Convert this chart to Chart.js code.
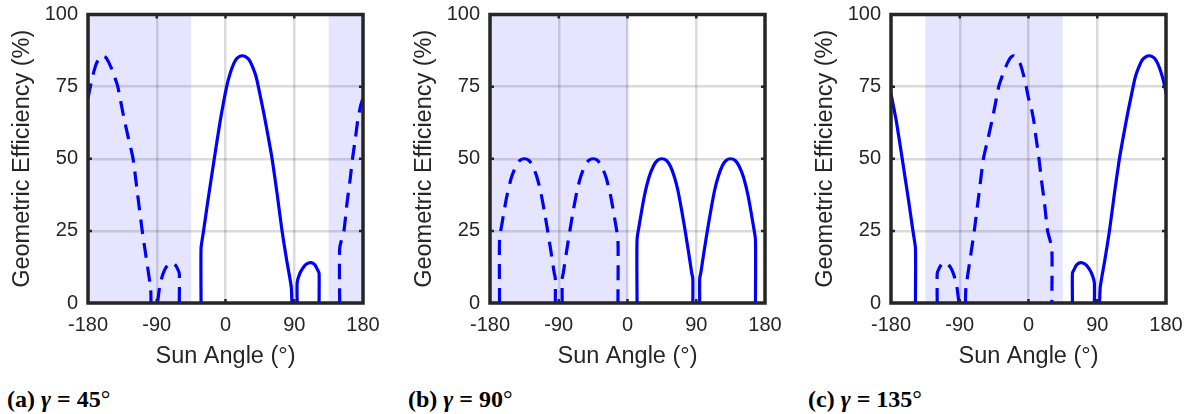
<!DOCTYPE html>
<html>
<head>
<meta charset="utf-8">
<script src="https://cdn.jsdelivr.net/npm/chart.js@4"></script>
<style>
  body { margin: 0; background: #fff; width: 1187px; height: 414px; position: relative; overflow: hidden; }
  .panel { position: absolute; top: 0; }
  .cap { position: absolute; top: 386px; line-height: 26px; font-family: "Liberation Serif", "Times New Roman", serif;
         font-size: 24px; font-weight: bold; color: #000; white-space: nowrap; }
  .cap span { font-weight: normal; }
</style>
</head>
<body>
<div class="panel" style="left:0px"><canvas id="chartA" width="384" height="373"></canvas></div>
<div class="panel" style="left:402px"><canvas id="chartB" width="384" height="373"></canvas></div>
<div class="panel" style="left:803px"><canvas id="chartC" width="384" height="373"></canvas></div>
<div class="cap" style="left:7px">(a) <i>γ</i> = 45<span>°</span></div>
<div class="cap" style="left:408px">(b) <i>γ</i> = 90<span>°</span></div>
<div class="cap" style="left:808px">(c) <i>γ</i> = 135<span>°</span></div>
<script>
// axis ticks
const xTicks = [-180, -90, 0, 90, 180];
const yTicks = [0, 25, 50, 75, 100];

// shaded sun-angle ranges per panel
const shadeA = [[-180, -45], [135, 180]];
const shadeB = [[-180, 0]];
const shadeC = [[-135, 45]];

// panel (a) gamma = 45 : solid and dashed series (null = gap)
const angA1 = [-32, -32, -29, -23, -15, -7, 1.5, 6, 10.5, 15, 18.5, 22, 26, 31, 36, 40, 43, 50, 56, 61, 67.5, 74, 80, 86, 87,
               90, 93.8, 93.8, 97, 101, 106, 112, 117, 120.5, 122.5, 122.5];
const effA1 = [0, 19, 24.5, 35.5, 49.5, 63, 75, 79.5, 82.8, 84.8, 85.5, 85.7, 85.4, 84.3, 81.5, 78.5, 75, 66, 57.5, 50, 38, 25, 15, 5.7, 0,
               null, 0, 7, 10, 12, 13.5, 14, 13.2, 11.5, 10.3, 0];
const angA2 = [-180, -177, -173, -169, -165, -161, -157, -153, -148, -144, -141, -134, -127, -121, -115, -109, -104, -98, -97.5,
               -93, -89, -86, -82, -78, -74, -70, -66, -63, -60.5, -60.5,
               0, 149.5, 149.5, 155, 159, 163, 166.5, 170, 173, 177, 180];
const effA2 = [71, 75, 79.5, 83, 85, 85.7, 85.2, 83.5, 80.5, 77.5, 75, 65.5, 57, 50, 37.5, 25, 16, 5, 0,
               null, 0, 6, 10, 12.3, 13.6, 14, 13.3, 12, 10.3, 0,
               null, 0, 19, 25, 34.5, 42.5, 50.5, 57, 63, 68.5, 71];

// panel (b) gamma = 90
const angB1 = [12.5, 12.5, 16, 22, 28, 34, 39, 45, 51, 56, 61, 66, 71, 75.5, 80, 84, 85.5, 85.5,
               90, 94.5, 94.5, 96, 100, 104.5, 109, 114, 119, 124, 129, 135, 141, 146, 152, 158, 164, 167.5, 167.5];
const effB1 = [0, 22, 28, 37, 43.5, 47.5, 49.4, 50, 49.4, 47.5, 44, 39, 32, 25, 17.5, 10.5, 8.5, 0,
               null, 0, 8.5, 10.5, 17.5, 25, 32, 39, 44, 47.5, 49.4, 50, 49.4, 47.5, 43.5, 37, 28, 22, 0];
const angB2 = [-167.5, -167.5, -164, -158, -152, -146, -141, -135, -129, -124, -119, -114, -109, -104.5, -100, -96, -94.5, -94.5,
               -90, -85.5, -85.5, -84, -80, -75.5, -71, -66, -61, -56, -51, -45, -39, -34, -28, -22, -16, -12.5, -12.5];
const effB2 = [0, 22, 28, 37, 43.5, 47.5, 49.4, 50, 49.4, 47.5, 44, 39, 32, 25, 17.5, 10.5, 8.5, 0,
               null, 0, 8.5, 10.5, 17.5, 25, 32, 39, 44, 47.5, 49.4, 50, 49.4, 47.5, 43.5, 37, 28, 22, 0];

// panel (c) gamma = 135
const angC1 = [-180, -173, -165, -157, -151, -148, -148,
               0, 57.5, 57.5, 59.5, 63, 68, 74, 79, 83, 86.2, 86.2,
               90, 93, 94, 100, 106, 112.5, 119, 124, 130, 137, 140, 144, 149, 154, 158, 161.5, 165, 169.5, 174, 178.5, 180];
const effC1 = [72.5, 63, 49.5, 35.5, 24.5, 19, 0,
               null, 0, 10.3, 11.5, 13.2, 14, 13.5, 12, 10, 7, 0,
               null, 0, 5.7, 15, 25, 38, 50, 57.5, 66, 75, 78.5, 81.5, 84.3, 85.4, 85.7, 85.5, 84.8, 82.8, 79.5, 75, 72.5];
const angC2 = [-119.5, -119.5, -117, -114, -110, -106, -102, -98, -94, -91,
               -87, -82.5, -82, -76, -71, -65, -59, -53, -46, -39, -36, -32, -27, -23, -19, -15, -11, -7, -3, 0,
               3, 7, 10, 13.5, 17, 21, 25, 30.5, 30.5];
const effC2 = [0, 10.3, 12, 13.3, 14, 13.6, 12.3, 10, 6, 0,
               null, 0, 5, 16, 25, 37.5, 50, 57, 65.5, 75, 77.5, 80.5, 83.5, 85.2, 85.7, 85, 83, 79.5, 75, 71,
               68.5, 63, 57, 50.5, 42.5, 34.5, 25, 19, 0];

const ink = '#262626';
Chart.defaults.font.family = '"Liberation Sans", Arial, Helvetica, sans-serif';
Chart.defaults.color = ink;

function pts(xs, ys) {
  return xs.map((x, i) => ({ x: x, y: ys[i] }));
}

// shading under the grid, frame and inward tick marks on top
const decor = {
  id: 'decor',
  beforeDraw(chart, args, opts) {
    const { ctx, chartArea: a, scales: { x } } = chart;
    ctx.save();
    ctx.fillStyle = 'rgba(0,0,255,0.1)';
    opts.shade.forEach(([s, e]) => {
      const x0 = x.getPixelForValue(s), x1 = x.getPixelForValue(e);
      ctx.fillRect(x0, a.top, x1 - x0, a.bottom - a.top);
    });
    ctx.restore();
  },
  afterDraw(chart) {
    const { ctx, chartArea: a, scales: { x, y } } = chart;
    ctx.save();
    ctx.strokeStyle = ink;
    ctx.lineWidth = 2.5;
    ctx.beginPath();
    xTicks.slice(1, -1).forEach(v => {
      const px = x.getPixelForValue(v);
      ctx.moveTo(px, a.bottom); ctx.lineTo(px, a.bottom - 4);
      ctx.moveTo(px, a.top); ctx.lineTo(px, a.top + 4);
    });
    yTicks.slice(1, -1).forEach(v => {
      const py = y.getPixelForValue(v);
      ctx.moveTo(a.left, py); ctx.lineTo(a.left + 4, py);
      ctx.moveTo(a.right, py); ctx.lineTo(a.right - 4, py);
    });
    ctx.stroke();
    ctx.lineWidth = 3.5;
    ctx.strokeRect(a.left, a.top, a.right - a.left, a.bottom - a.top);
    ctx.restore();
  }
};

function makeChart(id, solidX, solidY, dashX, dashY, shade) {
  return new Chart(document.getElementById(id), {
    type: 'line',
    data: {
      datasets: [
        { data: pts(dashX, dashY), borderColor: '#0000ff', borderWidth: 3.2, borderDash: [15, 9],
          pointRadius: 0, tension: 0.2, fill: false },
        { data: pts(solidX, solidY), borderColor: '#0000ff', borderWidth: 3.2,
          pointRadius: 0, tension: 0.2, fill: false }
      ]
    },
    options: {
      responsive: false,
      animation: false,
      events: [],
      layout: { padding: { top: 14.5, right: 21, bottom: 0, left: 0 } },
      plugins: { legend: { display: false }, tooltip: { enabled: false }, decor: { shade: shade } },
      scales: {
        x: {
          type: 'linear', min: -180, max: 180,
          afterFit: s => { s.height = 70; s.paddingLeft = 0; s.paddingRight = 0; },
          afterBuildTicks: s => { s.ticks = xTicks.map(v => ({ value: v })); },
          ticks: { font: { size: 20 }, padding: 10, color: ink },
          grid: { color: 'rgba(0,0,0,0.14)', lineWidth: 2.5, drawTicks: false },
          border: { display: false },
          title: { display: true, text: 'Sun Angle (°)', font: { size: 23.5 }, color: ink, padding: { top: 0, bottom: 2 } }
        },
        y: {
          min: 0, max: 100,
          afterFit: s => { s.width = 88; s.paddingTop = 0; s.paddingBottom = 0; },
          afterBuildTicks: s => { s.ticks = yTicks.map(v => ({ value: v })); },
          ticks: { font: { size: 20 }, padding: 10, color: ink },
          grid: { color: 'rgba(0,0,0,0.14)', lineWidth: 2.5, drawTicks: false },
          border: { display: false },
          title: { display: true, text: 'Geometric Efficiency (%)', font: { size: 23.5 }, color: ink, padding: { top: 8, bottom: 0 } }
        }
      }
    },
    plugins: [decor]
  });
}

makeChart('chartA', angA1, effA1, angA2, effA2, shadeA);
makeChart('chartB', angB1, effB1, angB2, effB2, shadeB);
makeChart('chartC', angC1, effC1, angC2, effC2, shadeC);
</script>
</body>
</html>
